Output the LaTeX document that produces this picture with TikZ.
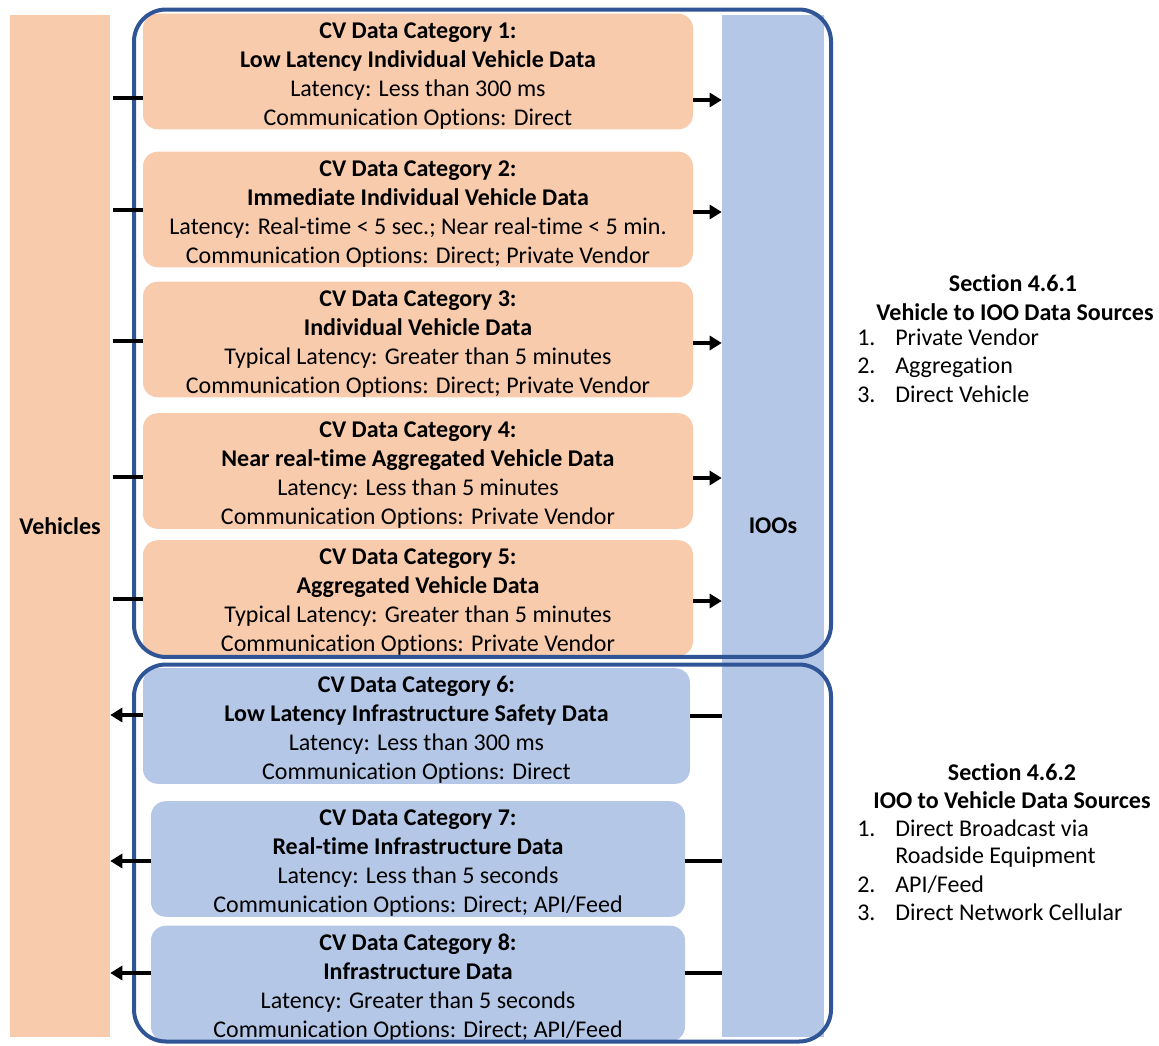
\documentclass[tikz,border=0pt]{standalone}
\usepackage{fontspec}
\setmainfont{Carlito}[Ligatures={CommonOff,ContextualOff}]
\usetikzlibrary{arrows.meta}
\definecolor{peach}{HTML}{F8CBAD}
\definecolor{sky}{HTML}{B4C7E7}
\definecolor{navy}{HTML}{2F5597}
% taller first line pushes the category text down inside its box
\newcommand{\cattitle}[1]{\rule{0pt}{18.5pt}\textbf{#1}}

\begin{document}
\begin{tikzpicture}[x=0.75pt,y=-0.75pt,
  every node/.style={font=\fontsize{18}{21.75}\selectfont, inner sep=0pt},
  column/.style={rectangle, minimum width=#1, minimum height=766.5pt,
    font=\bfseries\fontsize{18}{21.75}\selectfont},
  catbox/.style={rectangle, rounded corners=11pt, align=center},
  vehcat/.style={catbox, fill=peach, minimum width=412.5pt},
  infcat/.style={catbox, fill=sky},
  group/.style={rectangle, draw=navy, line width=3pt, rounded corners=24pt},
  conn/.style={line width=3pt, -{Triangle[length=9pt,width=10.5pt]}},
  link/.style={line width=3pt},
  listtext/.style={anchor=base west},
]
\useasboundingbox (0,0) rectangle (1159,1045);

% side columns
\node[column=75pt, fill=peach] (veh) at (60,526) {Vehicles};
\node[column=76.5pt, fill=sky] (ioo) at (773,526) {IOOs};

% vehicle-to-IOO categories
\node[vehcat, minimum height=84.75pt] (c1) at (418,71.5) {\cattitle{CV Data Category 1:}\\\textbf{Low Latency Individual Vehicle Data}\\Latency: Less than 300 ms\\Communication Options: Direct};
\node[vehcat, minimum height=84.75pt] (c2) at (418,209.5) {\cattitle{CV Data Category 2:}\\\textbf{Immediate Individual Vehicle Data}\\Latency: Real-time < 5 sec.; Near real-time < 5 min.\\Communication Options: Direct; Private Vendor};
\node[vehcat, minimum height=84.75pt] (c3) at (418,339.5) {\cattitle{CV Data Category 3:}\\\textbf{Individual Vehicle Data}\\Typical Latency: Greater than 5 minutes\\Communication Options: Direct; Private Vendor};
\node[vehcat, minimum height=84pt] (c4) at (418,471) {\cattitle{CV Data Category 4:}\\\textbf{Near real-time Aggregated Vehicle Data}\\Latency: Less than 5 minutes\\Communication Options: Private Vendor};
\node[vehcat, minimum height=84pt] (c5) at (418,598) {\cattitle{CV Data Category 5:}\\\textbf{Aggregated Vehicle Data}\\Typical Latency: Greater than 5 minutes\\Communication Options: Private Vendor};

% IOO-to-vehicle categories
\node[infcat, minimum width=410.25pt, minimum height=84pt] (c6) at (416.5,726) {\cattitle{CV Data Category 6:}\\\textbf{Low Latency Infrastructure Safety Data}\\Latency: Less than 300 ms\\Communication Options: Direct};
\node[infcat, minimum width=400.5pt, minimum height=84pt] (c7) at (418,859) {\cattitle{CV Data Category 7:}\\\textbf{Real-time Infrastructure Data}\\Latency: Less than 5 seconds\\Communication Options: Direct; API/Feed};
\node[infcat, minimum width=400.5pt, minimum height=84.75pt] (c8) at (418,983.5) {\cattitle{CV Data Category 8:}\\\textbf{Infrastructure Data}\\Latency: Greater than 5 seconds\\Communication Options: Direct; API/Feed};

% group outlines
\node[group, minimum width=522.75pt, minimum height=485.6pt] (gA) at (482.5,333.25) {};
\node[group, minimum width=522.75pt, minimum height=282.75pt] (gB) at (482.5,853) {};

% connector end points on the category boxes
\coordinate (l1) at (143,98);  \coordinate (r1) at (693,100);
\coordinate (l2) at (143,210); \coordinate (r2) at (693,212);
\coordinate (l3) at (143,341); \coordinate (r3) at (693,343);
\coordinate (l4) at (143,477); \coordinate (r4) at (693,478);
\coordinate (l5) at (143,599); \coordinate (r5) at (693,601);
\coordinate (l6) at (143,715); \coordinate (r6) at (690,716);
\coordinate (l7) at (151,861); \coordinate (r7) at (685,861);
\coordinate (l8) at (151,973); \coordinate (r8) at (685,973);

% vehicles -> categories -> IOOs
\foreach \i in {1,...,5}{
  \draw[link, shorten <=2.25pt] (veh.east |- l\i) -- (l\i);
  \draw[conn] (r\i) -- (ioo.west |- r\i);
}
% IOOs -> categories -> vehicles
\foreach \i in {6,7,8}{
  \draw[link] (ioo.west |- r\i) -- (r\i);
  \draw[conn] (l\i) -- (veh.east |- l\i);
}

% section notes
\node[anchor=base] (s1h) at (1013,291) {\textbf{Section 4.6.1}};
\node[anchor=base] (s1t) at (1015,320) {\textbf{Vehicle to IOO Data Sources}};
\node[listtext] (s1n1) at (857,345) {1.};
\node[listtext] (s1i1) at (895,345) {Private Vendor};
\node[listtext] (s1n2) at (857,373) {2.};
\node[listtext] (s1i2) at (895,373) {Aggregation};
\node[listtext] (s1n3) at (857,402) {3.};
\node[listtext] (s1i3) at (895,402) {Direct Vehicle};

\node[anchor=base] (s2h) at (1012,780) {\textbf{Section 4.6.2}};
\node[anchor=base] (s2t) at (1012,808) {\textbf{IOO to Vehicle Data Sources}};
\node[listtext] (s2n1) at (857,836) {1.};
\node[listtext] (s2i1) at (895,836) {Direct Broadcast via};
\node[listtext] (s2i1b) at (895,863) {Roadside Equipment};
\node[listtext] (s2n2) at (857,892) {2.};
\node[listtext] (s2i2) at (895,892) {API/Feed};
\node[listtext] (s2n3) at (857,920) {3.};
\node[listtext] (s2i3) at (895,920) {Direct Network Cellular};
\end{tikzpicture}
\end{document}
